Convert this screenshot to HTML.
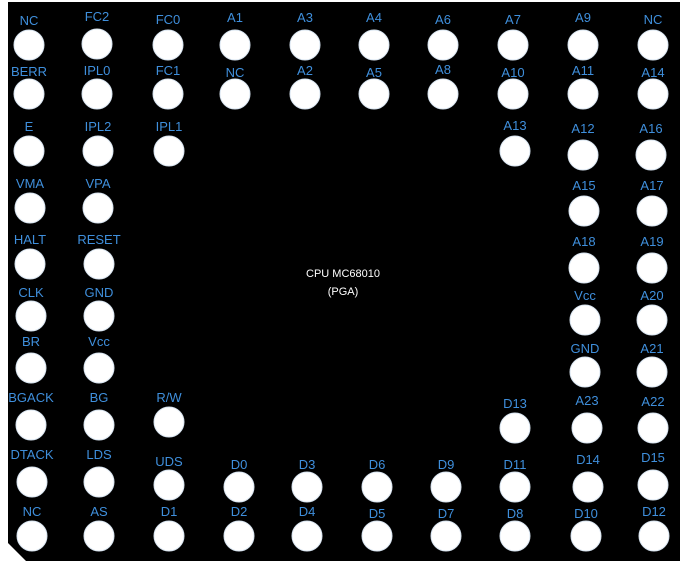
<!DOCTYPE html>
<html><head><style>
html,body{margin:0;padding:0;background:#fff;}
svg{display:block;}
text.l{fill:#3f8fdc;font-family:"Liberation Sans",sans-serif;font-size:13px;text-anchor:middle;}
text.c{fill:#fff;font-family:"Liberation Sans",sans-serif;font-size:11px;text-anchor:middle;}
circle{fill:#fff;stroke:#d8e4f0;stroke-width:1;}
</style></head><body>
<svg width="688" height="571" xmlns="http://www.w3.org/2000/svg">
<polygon points="8,2 680,2 680,561 26,561 8,543" fill="#000"/>
<text class="c" x="343" y="277">CPU MC68010</text>
<text class="c" x="343" y="295">(PGA)</text>
<g id="pins"></g>
</svg>
<script>
var P=[
["NC",29,45,25],["FC2",97,44,21],["FC0",168,45,24],["A1",235,45,22],["A3",305,45,22],["A4",374,45,22],["A6",443,45,24],["A7",513,45,24],["A9",583,45,22],["NC",653,45,24],
["BERR",29,94,76],["IPL0",97,94,75],["FC1",168,94,75],["NC",235,94,77],["A2",305,94,75],["A5",374,94,77],["A8",443,94,74],["A10",513,94,77],["A11",583,94,75],["A14",653,94,77],
["E",29,151,131],["IPL2",98,151,131],["IPL1",169,151,131],["A13",515,151,130],["A12",583,155,133],["A16",651,155,133],
["VMA",30,208,188],["VPA",98,208,188],["A15",584,211,190],["A17",652,211,190],
["HALT",30,264,244],["RESET",99,264,244],["A18",584,268,246],["A19",652,268,246],
["CLK",31,316,297],["GND",99,316,297],["Vcc",585,320,300],["A20",652,320,300],
["BR",31,368,346],["Vcc",99,368,346],["GND",585,372,353],["A21",652,372,353],
["BGACK",31,425,402],["BG",99,425,402],["R/W",169,422,402],["D13",515,428,408],["A23",587,428,405],["A22",653,428,406],
["DTACK",32,482,459],["LDS",99,482,459],["UDS",169,485,466],["D0",239,487,469],["D3",307,487,469],["D6",377,487,469],["D9",446,487,469],["D11",515,487,469],["D14",588,487,464],["D15",653,485,462],
["NC",32,536,516],["AS",99,536,516],["D1",169,536,516],["D2",239,536,516],["D4",307,536,516],["D5",377,536,518],["D7",446,536,518],["D8",515,536,518],["D10",586,536,518],["D12",654,536,516]
];
var g=document.getElementById('pins'),h="";
P.forEach(function(p){h+='<circle cx="'+p[1]+'" cy="'+p[2]+'" r="15"/><text class="l" x="'+p[1]+'" y="'+p[3]+'">'+p[0]+'</text>';});
g.innerHTML=h;
</script>
</body></html>
